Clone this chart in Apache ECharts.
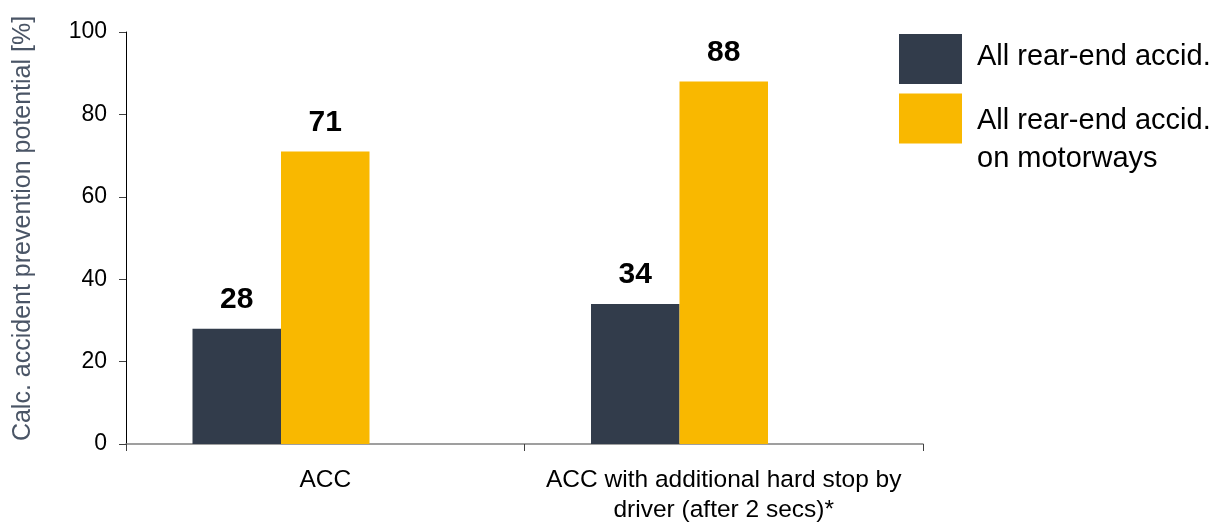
<!DOCTYPE html>
<html>
<head>
<meta charset="utf-8">
<style>
  html, body { margin: 0; padding: 0; background: #fff; overflow: hidden; }
  #chart { width: 1222px; height: 523px; }
</style>
<script src="https://cdn.jsdelivr.net/npm/echarts@6/dist/echarts.min.js"></script>
</head>
<body>
<div id="chart"></div>
<script>
// Calculated accident prevention potential of ACC variants
const categories = ['ACC', 'ACC with additional hard stop by\ndriver (after 2 secs)*'];
const allRearEnd = [28, 34];
const rearEndMotorways = [71, 88];
const yTicks = { min: 0, max: 100, interval: 20 };
const seriesNames = ['All rear-end accid.', 'All rear-end accid. on motorways'];

const FONT = '"Liberation Sans", Arial, sans-serif';
const chart = echarts.init(document.getElementById('chart'), null, { renderer: 'canvas' });

const valueLabel = {
  show: true,
  position: 'top',
  distance: 14,
  fontFamily: FONT,
  fontSize: 30,
  fontWeight: 'bold',
  color: '#000'
};

chart.setOption({
  animation: false,
  grid: { left: 126, right: 299, top: 32, bottom: 79, containLabel: false, outerBoundsMode: 'none' },
  legend: {
    data: seriesNames,
    orient: 'vertical',
    left: 899,
    top: 34,
    padding: 0,
    itemWidth: 63,
    itemHeight: 50,
    itemGap: -20.5,
    icon: 'rect',
    selectedMode: false,
    formatter: name => name === seriesNames[1]
      ? '{two|All rear-end accid.\non motorways}'
      : '{one|' + name + '}',
    textStyle: {
      fontFamily: FONT,
      fontSize: 29,
      color: '#000',
      padding: [0, 0, 0, 10],
      rich: {
        one: { fontFamily: FONT, fontSize: 29, color: '#000', lineHeight: 38, padding: [0, 0, 4, 0] },
        two: { fontFamily: FONT, fontSize: 29, color: '#000', lineHeight: 38, padding: [43, 0, 0, 0] }
      }
    }
  },
  xAxis: {
    type: 'category',
    data: categories,
    axisLine: { show: true, lineStyle: { color: '#808080', width: 1.5 } },
    axisTick: { show: true, alignWithLabel: false, length: 7, lineStyle: { color: '#404040' } },
    axisLabel: {
      fontFamily: FONT,
      fontSize: 24.5,
      color: '#000',
      margin: 21,
      lineHeight: 30,
      interval: 0
    }
  },
  yAxis: {
    type: 'value',
    min: yTicks.min,
    max: yTicks.max,
    interval: yTicks.interval,
    name: 'Calc. accident prevention potential [%]',
    nameLocation: 'middle',
    nameGap: 90,
    nameTextStyle: { fontFamily: FONT, fontSize: 25, color: '#4a5566', padding: [0, 0, 0, 19] },
    axisLine: { show: true, lineStyle: { color: '#000', width: 1 } },
    axisTick: { show: true, length: 7, lineStyle: { color: '#404040' } },
    axisLabel: { fontFamily: FONT, fontSize: 23, color: '#000', margin: 19 },
    splitLine: { show: false }
  },
  series: [
    {
      name: seriesNames[0],
      type: 'bar',
      data: allRearEnd,
      barWidth: 88.5,
      barGap: '0%',
      itemStyle: { color: '#323c4b' },
      label: valueLabel
    },
    {
      name: seriesNames[1],
      type: 'bar',
      data: rearEndMotorways,
      barWidth: 88.5,
      barGap: '0%',
      itemStyle: { color: '#f9b800' },
      label: valueLabel
    },
    {
      // empty slot keeps each pair left of the category centre
      name: 'spacer',
      type: 'bar',
      data: [null, null],
      barWidth: 88.5,
      barGap: '0%',
      silent: true
    }
  ]
});
</script>
</body>
</html>
